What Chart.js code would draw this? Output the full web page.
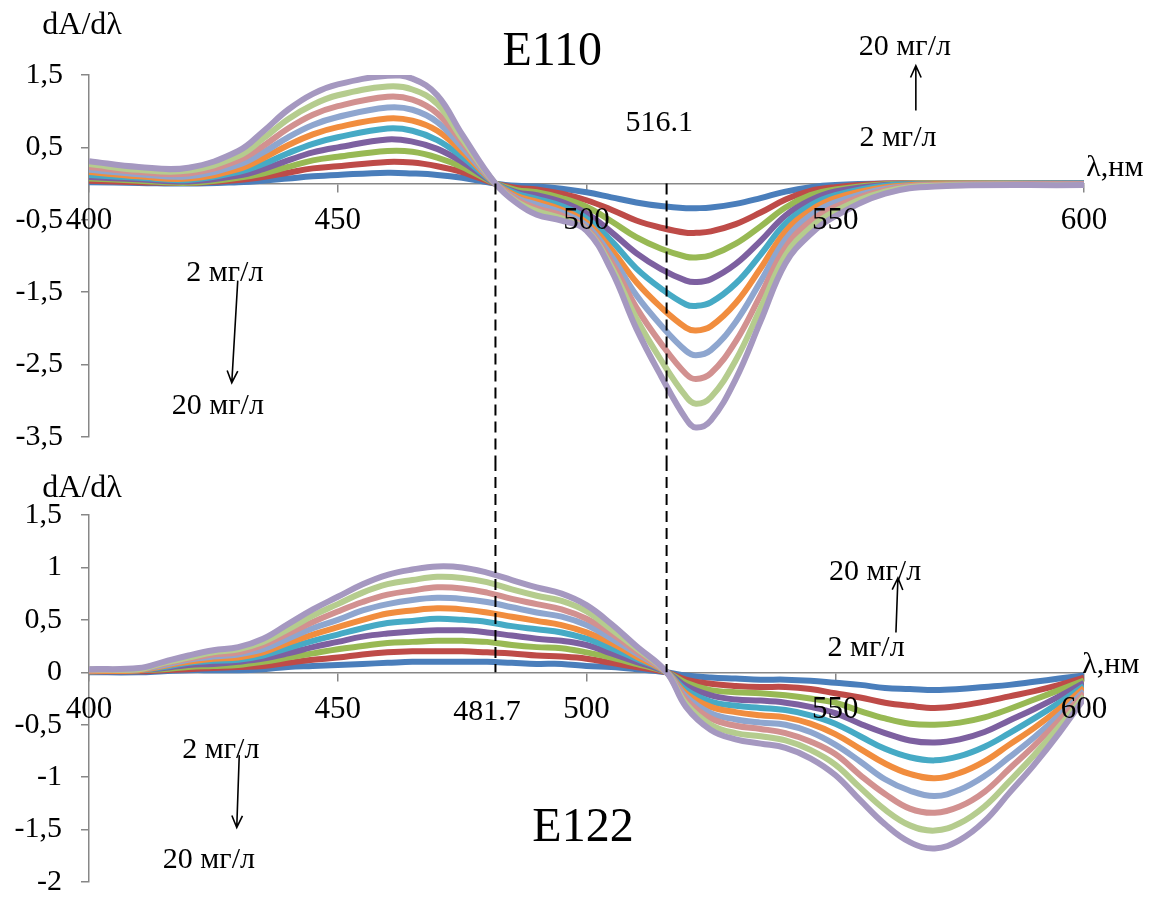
<!DOCTYPE html>
<html>
<head>
<meta charset="utf-8">
<script src="https://cdn.jsdelivr.net/npm/chart.js@4.4.0/dist/chart.umd.min.js"></script>
<style>
  html, body { margin: 0; padding: 0; background: #fff; }
  #wrap { position: relative; width: 1150px; height: 899px; }
  .box { position: absolute; left: 0; width: 1150px; }
  #topBox { top: 0; height: 460px; }
  #botBox { top: 460px; height: 439px; }
</style>
</head>
<body>
<div id="wrap">
  <div class="box" id="topBox"><canvas id="chartE110"></canvas></div>
  <div class="box" id="botBox"><canvas id="chartE122"></canvas></div>
</div>
<script>
const FONT = "'Liberation Serif', 'Times New Roman', serif";
const AXIS = '#878787';

const concLabels = ['2 мг/л', '4 мг/л', '6 мг/л', '8 мг/л', '10 мг/л', '12 мг/л', '14 мг/л', '16 мг/л', '18 мг/л', '20 мг/л'];
const seriesColors = ['#4A7EBB', '#BE4B48', '#98B954', '#7D60A0', '#46AAC5', '#F18D3E', '#8EA6CF', '#D29190', '#B5CC8E', '#A598C0'];
const xTicks = [400, 450, 500, 550, 600];
const markWl = [481.7, 516.1];

// E110, dA/dλ
const wlE110 = [400, 410, 420, 430, 435, 440, 445, 450, 460, 465, 470, 475, 481.7, 486, 490, 495, 500, 505, 510, 515, 520, 522, 525, 530, 535, 540, 545, 550, 560, 570, 600];
const e110_2  = [0.02, 0.01, 0.00, 0.02, 0.04, 0.07, 0.10, 0.12, 0.15, 0.14, 0.12, 0.08, 0, -0.03, -0.04, -0.07, -0.12, -0.19, -0.26, -0.31, -0.34, -0.34, -0.33, -0.28, -0.20, -0.11, -0.05, -0.02, 0, 0, 0];
const e110_4  = [0.04, 0.02, 0.01, 0.05, 0.09, 0.15, 0.21, 0.24, 0.30, 0.29, 0.24, 0.16, 0, -0.06, -0.08, -0.14, -0.23, -0.36, -0.51, -0.61, -0.68, -0.68, -0.66, -0.56, -0.40, -0.22, -0.10, -0.05, 0, 0, 0];
const e110_6  = [0.07, 0.04, 0.01, 0.08, 0.14, 0.23, 0.32, 0.37, 0.45, 0.44, 0.36, 0.23, 0, -0.09, -0.12, -0.20, -0.32, -0.52, -0.74, -0.90, -1.01, -1.02, -0.99, -0.83, -0.59, -0.33, -0.16, -0.08, -0.01, 0, 0];
const e110_8  = [0.09, 0.06, 0.03, 0.11, 0.20, 0.32, 0.43, 0.50, 0.61, 0.58, 0.48, 0.30, 0, -0.12, -0.16, -0.25, -0.41, -0.67, -0.96, -1.18, -1.34, -1.36, -1.32, -1.11, -0.79, -0.44, -0.23, -0.11, -0.02, -0.01, 0];
const e110_10 = [0.12, 0.08, 0.05, 0.16, 0.27, 0.42, 0.55, 0.64, 0.76, 0.73, 0.60, 0.37, 0, -0.14, -0.21, -0.31, -0.48, -0.79, -1.17, -1.45, -1.67, -1.69, -1.64, -1.38, -0.98, -0.55, -0.30, -0.16, -0.03, -0.01, 0];
const e110_12 = [0.16, 0.10, 0.07, 0.20, 0.35, 0.53, 0.68, 0.78, 0.90, 0.87, 0.73, 0.44, 0, -0.17, -0.25, -0.36, -0.54, -0.91, -1.36, -1.71, -1.99, -2.03, -1.97, -1.65, -1.17, -0.66, -0.37, -0.20, -0.05, -0.01, -0.01];
const e110_14 = [0.19, 0.13, 0.10, 0.26, 0.43, 0.64, 0.81, 0.92, 1.05, 1.02, 0.85, 0.50, 0, -0.20, -0.29, -0.40, -0.58, -1.00, -1.54, -1.96, -2.31, -2.37, -2.30, -1.91, -1.35, -0.77, -0.44, -0.26, -0.07, -0.02, -0.01];
const e110_16 = [0.23, 0.16, 0.14, 0.32, 0.52, 0.76, 0.95, 1.07, 1.20, 1.16, 0.97, 0.57, 0, -0.22, -0.34, -0.44, -0.62, -1.08, -1.71, -2.21, -2.63, -2.70, -2.62, -2.18, -1.54, -0.88, -0.52, -0.32, -0.09, -0.02, -0.01];
const e110_18 = [0.27, 0.19, 0.18, 0.38, 0.62, 0.89, 1.09, 1.22, 1.34, 1.30, 1.10, 0.62, 0, -0.25, -0.38, -0.48, -0.64, -1.15, -1.86, -2.44, -2.94, -3.04, -2.95, -2.44, -1.72, -0.99, -0.61, -0.38, -0.11, -0.03, -0.02];
const e110_20 = [0.31, 0.23, 0.22, 0.45, 0.72, 1.02, 1.24, 1.37, 1.49, 1.45, 1.22, 0.68, 0, -0.27, -0.43, -0.51, -0.65, -1.20, -2.00, -2.66, -3.25, -3.37, -3.27, -2.70, -1.90, -1.10, -0.70, -0.45, -0.14, -0.04, -0.02];

// E122, dA/dλ
const wlE122 = [400, 410, 415, 420, 425, 430, 435, 440, 445, 450, 455, 460, 465, 470, 475, 480, 485, 490, 495, 500, 505, 510, 516.1, 520, 525, 530, 535, 540, 545, 550, 555, 560, 565, 570, 575, 580, 585, 590, 595, 600];
const e122_2  = [0.00, 0.00, 0.01, 0.02, 0.02, 0.02, 0.03, 0.05, 0.06, 0.07, 0.08, 0.09, 0.10, 0.10, 0.10, 0.10, 0.09, 0.08, 0.08, 0.06, 0.05, 0.03, 0, -0.03, -0.05, -0.06, -0.07, -0.07, -0.08, -0.10, -0.12, -0.15, -0.16, -0.17, -0.16, -0.14, -0.12, -0.09, -0.06, -0.03];
const e122_4  = [0.01, 0.01, 0.02, 0.03, 0.04, 0.05, 0.06, 0.09, 0.12, 0.14, 0.17, 0.19, 0.20, 0.20, 0.20, 0.19, 0.18, 0.16, 0.15, 0.13, 0.09, 0.05, 0, -0.07, -0.11, -0.13, -0.14, -0.14, -0.16, -0.20, -0.24, -0.29, -0.32, -0.34, -0.32, -0.28, -0.23, -0.18, -0.12, -0.05];
const e122_6  = [0.01, 0.02, 0.03, 0.05, 0.06, 0.07, 0.10, 0.14, 0.18, 0.22, 0.25, 0.28, 0.29, 0.30, 0.30, 0.29, 0.26, 0.24, 0.23, 0.19, 0.14, 0.08, 0, -0.10, -0.17, -0.19, -0.20, -0.22, -0.25, -0.29, -0.37, -0.44, -0.49, -0.50, -0.48, -0.43, -0.35, -0.26, -0.17, -0.08];
const e122_8  = [0.01, 0.02, 0.04, 0.07, 0.08, 0.10, 0.13, 0.18, 0.24, 0.29, 0.34, 0.37, 0.39, 0.40, 0.40, 0.38, 0.35, 0.32, 0.30, 0.26, 0.18, 0.10, 0, -0.13, -0.22, -0.26, -0.27, -0.29, -0.33, -0.39, -0.49, -0.58, -0.65, -0.67, -0.64, -0.57, -0.46, -0.35, -0.23, -0.10];
const e122_10 = [0.01, 0.02, 0.05, 0.09, 0.11, 0.12, 0.16, 0.23, 0.30, 0.36, 0.42, 0.47, 0.49, 0.51, 0.50, 0.48, 0.44, 0.41, 0.38, 0.32, 0.23, 0.13, 0, -0.17, -0.28, -0.32, -0.34, -0.36, -0.41, -0.49, -0.61, -0.73, -0.81, -0.84, -0.80, -0.71, -0.58, -0.44, -0.29, -0.13];
const e122_12 = [0.01, 0.02, 0.06, 0.10, 0.13, 0.14, 0.19, 0.28, 0.36, 0.43, 0.50, 0.56, 0.59, 0.61, 0.60, 0.57, 0.53, 0.49, 0.45, 0.38, 0.28, 0.15, 0, -0.20, -0.33, -0.38, -0.41, -0.43, -0.49, -0.59, -0.73, -0.87, -0.97, -1.01, -0.96, -0.85, -0.69, -0.53, -0.35, -0.15];
const e122_14 = [0.02, 0.03, 0.07, 0.12, 0.15, 0.17, 0.22, 0.32, 0.42, 0.50, 0.59, 0.65, 0.69, 0.71, 0.70, 0.67, 0.62, 0.57, 0.53, 0.45, 0.32, 0.18, 0, -0.23, -0.39, -0.45, -0.48, -0.50, -0.57, -0.69, -0.85, -1.02, -1.13, -1.18, -1.12, -0.99, -0.81, -0.62, -0.41, -0.18];
const e122_16 = [0.02, 0.03, 0.08, 0.13, 0.17, 0.19, 0.26, 0.37, 0.48, 0.58, 0.67, 0.74, 0.78, 0.81, 0.80, 0.76, 0.70, 0.65, 0.60, 0.51, 0.37, 0.20, 0, -0.26, -0.44, -0.51, -0.54, -0.58, -0.66, -0.78, -0.98, -1.16, -1.30, -1.34, -1.28, -1.14, -0.92, -0.70, -0.46, -0.20];
const e122_18 = [0.03, 0.03, 0.09, 0.14, 0.19, 0.22, 0.29, 0.41, 0.54, 0.65, 0.76, 0.84, 0.88, 0.91, 0.90, 0.86, 0.79, 0.73, 0.68, 0.58, 0.41, 0.23, 0, -0.30, -0.50, -0.58, -0.61, -0.65, -0.74, -0.88, -1.10, -1.31, -1.46, -1.51, -1.44, -1.28, -1.04, -0.79, -0.52, -0.23];
const e122_20 = [0.03, 0.04, 0.10, 0.16, 0.21, 0.24, 0.32, 0.46, 0.60, 0.72, 0.84, 0.93, 0.98, 1.01, 1.00, 0.95, 0.88, 0.81, 0.75, 0.64, 0.46, 0.25, 0, -0.33, -0.55, -0.64, -0.68, -0.72, -0.82, -0.98, -1.22, -1.45, -1.62, -1.68, -1.60, -1.42, -1.15, -0.88, -0.58, -0.25];

// annotations, placed in data units (λ, dA/dλ)
const notesE110 = [
  { text: 'dA/dλ', x: 398.6, y: 2.18, size: 32 },
  { text: 'E110', x: 493.1, y: 1.81, size: 48 },
  { text: '516.1', x: 514.6, y: 0.83, size: 30 },
  { text: '20 мг/л', x: 564.0, y: 1.88, size: 30 },
  { text: '2 мг/л', x: 562.6, y: 0.635, size: 30 },
  { text: 'λ,нм', x: 606.2, y: 0.22, size: 30 },
  { text: '2 мг/л', x: 427.3, y: -1.23, size: 30 },
  { text: '20 мг/л', x: 425.9, y: -3.07, size: 30 }
];
const arrowsE110 = [
  { from: [566.2, 1.01], to: [566.2, 1.63] },
  { from: [429.9, -1.34], to: [428.7, -2.75] }
];
const notesE122 = [
  { text: 'dA/dλ', x: 398.6, y: 1.75, size: 32 },
  { text: '481.7', x: 480.0, y: -0.38, size: 30 },
  { text: '20 мг/л', x: 558.0, y: 0.955, size: 30 },
  { text: '2 мг/л', x: 556.2, y: 0.23, size: 30 },
  { text: 'λ,нм', x: 605.4, y: 0.07, size: 30 },
  { text: '2 мг/л', x: 426.5, y: -0.745, size: 30 },
  { text: '20 мг/л', x: 424.1, y: -1.79, size: 30 },
  { text: 'E122', x: 499.3, y: -1.49, size: 48 }
];
const arrowsE122 = [
  { from: [562.2, 0.38], to: [562.6, 0.90] },
  { from: [430.2, -0.79], to: [429.7, -1.48] }
];

const decorPlugin = {
  id: 'decor',
  afterDatasetsDraw(chart, args, opts) {
    const { ctx } = chart;
    const { x, y } = chart.scales;
    const y0 = y.getPixelForValue(0);

    ctx.save();
    // dashed guides, continued across both panels
    ctx.strokeStyle = '#000';
    ctx.lineWidth = 2;
    ctx.setLineDash([11, 6]);
    markWl.forEach((wl) => {
      const px = x.getPixelForValue(wl);
      ctx.beginPath();
      if (opts.guideDown) {
        ctx.moveTo(px, y0);
        ctx.lineTo(px, chart.height);
      } else {
        ctx.moveTo(px, 0);
        ctx.lineTo(px, y0);
      }
      ctx.stroke();
    });
    ctx.setLineDash([]);

    // arrows
    ctx.lineWidth = 1.6;
    opts.arrows.forEach((a) => {
      const x1 = x.getPixelForValue(a.from[0]), y1 = y.getPixelForValue(a.from[1]);
      const x2 = x.getPixelForValue(a.to[0]), y2 = y.getPixelForValue(a.to[1]);
      const ang = Math.atan2(y2 - y1, x2 - x1);
      ctx.beginPath();
      ctx.moveTo(x1, y1);
      ctx.lineTo(x2, y2);
      ctx.moveTo(x2 - 13 * Math.cos(ang - 0.42), y2 - 13 * Math.sin(ang - 0.42));
      ctx.lineTo(x2, y2);
      ctx.lineTo(x2 - 13 * Math.cos(ang + 0.42), y2 - 13 * Math.sin(ang + 0.42));
      ctx.stroke();
    });

    // labels
    ctx.fillStyle = '#000';
    ctx.textAlign = 'center';
    ctx.textBaseline = 'middle';
    opts.notes.forEach((n) => {
      ctx.font = `${n.size}px ${FONT}`;
      ctx.fillText(n.text, x.getPixelForValue(n.x), y.getPixelForValue(n.y));
    });
    ctx.restore();
  }
};

function buildSets(wl, rows) {
  return rows.map((vals, i) => ({
    label: concLabels[i],
    data: wl.map((w, j) => ({ x: w, y: vals[j] })),
    borderColor: seriesColors[i],
    backgroundColor: seriesColors[i],
    borderWidth: 6,
    pointRadius: 0,
    tension: 0.4,
    fill: false,
    order: rows.length - 1 - i
  }));
}

function panelOptions(yMin, yMax, yStep, padTop, padBottom, yPad, decor) {
  return {
    responsive: true,
    maintainAspectRatio: false,
    animation: false,
    layout: { padding: { top: padTop, bottom: padBottom, left: 0, right: 66 } },
    plugins: { legend: { display: false }, tooltip: { enabled: false }, decor },
    scales: {
      x: {
        type: 'linear',
        min: 400,
        max: 600,
        position: { y: 0 },
        afterFit: (s) => { s.height = 0; s.paddingLeft = 0; s.paddingRight = 0; },
        afterBuildTicks: (s) => { s.ticks = xTicks.map((v) => ({ value: v })); },
        grid: { drawOnChartArea: false, tickLength: 8, color: AXIS, lineWidth: 1.5 },
        border: { color: AXIS, width: 1.5 },
        ticks: {
          z: 1, padding: 11, maxRotation: 0, autoSkip: false, color: '#000',
          font: { family: FONT, size: 31 },
          callback: (v) => String(v)
        }
      },
      y: {
        type: 'linear',
        min: yMin,
        max: yMax,
        afterFit: (s) => { s.width = 89; s.paddingTop = 0; s.paddingBottom = 0; },
        grid: { drawOnChartArea: false, tickLength: 8, color: AXIS, lineWidth: 1.5 },
        border: { color: AXIS, width: 1.5 },
        ticks: {
          stepSize: yStep, padding: yPad, color: '#000',
          font: { family: FONT, size: 30 },
          callback: (v) => String(v).replace('.', ',')
        }
      }
    }
  };
}

new Chart(document.getElementById('chartE110'), {
  type: 'line',
  data: { datasets: buildSets(wlE110, [e110_2, e110_4, e110_6, e110_8, e110_10, e110_12, e110_14, e110_16, e110_18, e110_20]) },
  options: panelOptions(-3.5, 1.5, 1, 75, 23, 18, { guideDown: true, notes: notesE110, arrows: arrowsE110 }),
  plugins: [decorPlugin]
});

new Chart(document.getElementById('chartE122'), {
  type: 'line',
  data: { datasets: buildSets(wlE122, [e122_2, e122_4, e122_6, e122_8, e122_10, e122_12, e122_14, e122_16, e122_18, e122_20]) },
  options: panelOptions(-2, 1.5, 0.5, 55, 17, 19, { guideDown: false, notes: notesE122, arrows: arrowsE122 }),
  plugins: [decorPlugin]
});
</script>
</body>
</html>
